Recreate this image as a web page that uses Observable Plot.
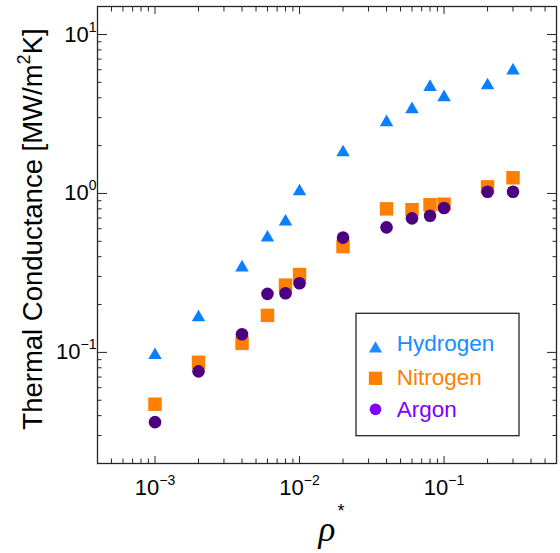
<!DOCTYPE html>
<html><head><meta charset="utf-8">
<script src="https://cdn.jsdelivr.net/npm/d3@7"></script>
<script src="https://cdn.jsdelivr.net/npm/@observablehq/plot@0.6"></script>
<style>
html,body{margin:0;padding:0;background:#fff;}
#chart{position:relative;width:560px;height:553px;font-family:"Liberation Sans",Arial,sans-serif;}
#chart svg{display:block;}
</style></head><body><div id="chart"></div>
<script>
// ---- data ----
const rho = [0.001, 0.002, 0.004, 0.006, 0.008, 0.01, 0.02, 0.04, 0.06, 0.08, 0.1, 0.2, 0.3];
const hydrogen = [0.096, 0.166, 0.342, 0.527, 0.664, 1.03, 1.81, 2.80, 3.38, 4.67, 4.02, 4.78, 5.93];
const nitrogen = [0.0472, 0.0866, 0.114, 0.171, 0.265, 0.309, 0.463, 0.80, 0.79, 0.85, 0.855, 1.10, 1.255];
const argon = [0.0364, 0.076, 0.130, 0.2335, 0.2356, 0.272, 0.527, 0.612, 0.697, 0.724, 0.81, 1.025, 1.025];
const seriesNames = ["Hydrogen", "Nitrogen", "Argon"];
const seriesColors = ["#0a80ff", "#ff8000", "#4b0082"];
const legendColors = ["#1a8cff", "#ff8000", "#8000ff"];
const majorX = [1e-3, 1e-2, 1e-1];
const minorX = [5e-4, 6e-4, 7e-4, 8e-4, 9e-4, 2e-3, 3e-3, 4e-3, 5e-3, 6e-3, 7e-3, 8e-3, 9e-3,
                2e-2, 3e-2, 4e-2, 5e-2, 6e-2, 7e-2, 8e-2, 9e-2, 0.2, 0.3, 0.4, 0.5];
const majorY = [0.1, 1, 10];
const minorY = [0.02, 0.03, 0.04, 0.05, 0.06, 0.07, 0.08, 0.09, 0.2, 0.3, 0.4, 0.5, 0.6, 0.7, 0.8, 0.9,
                2, 3, 4, 5, 6, 7, 8, 9];
const xLabel = "ρ";
const xLabelSup = "*";
const yLabel = "Thermal Conductance [MW/m^2K]";

const rows = vals => rho.map((x, i) => ({x, y: vals[i]}));
const ink = "#262626";
const expFmt = d => "10^" + String(Math.round(Math.log10(d))).replace("-", "−");
const none = () => "";

const plot = Plot.plot({
  width: 560, height: 553,
  marginLeft: 97, marginRight: 4, marginTop: 6, marginBottom: 90,
  style: {fontFamily: '"Liberation Sans", Arial, sans-serif', background: "#fff", overflow: "visible", color: "#000"},
  x: {type: "log", domain: [4e-4, 0.6]},
  y: {type: "log", domain: [0.02, 15]},
  marks: [
    // inward ticks on all four sides
    Plot.axisX(majorX, {anchor: "bottom", tickSize: 7, dy: -7, tickFormat: none, label: null, stroke: ink}),
    Plot.axisX(minorX, {anchor: "bottom", tickSize: 4.5, dy: -4.5, tickFormat: none, label: null, stroke: ink}),
    Plot.axisX(majorX, {anchor: "top", tickSize: 7, dy: 7, tickFormat: none, label: null, stroke: ink}),
    Plot.axisX(minorX, {anchor: "top", tickSize: 4.5, dy: 4.5, tickFormat: none, label: null, stroke: ink}),
    Plot.axisY(majorY, {anchor: "left", tickSize: 10, dx: 10, tickFormat: none, label: null, stroke: ink}),
    Plot.axisY(minorY, {anchor: "left", tickSize: 4.5, dx: 4.5, tickFormat: none, label: null, stroke: ink}),
    Plot.axisY(majorY, {anchor: "right", tickSize: 10, dx: -10, tickFormat: none, label: null, stroke: ink}),
    Plot.axisY(minorY, {anchor: "right", tickSize: 4.5, dx: -4.5, tickFormat: none, label: null, stroke: ink}),
    // tick labels
    Plot.axisX(majorX, {anchor: "bottom", tickSize: 0, tickPadding: 15.4, fontSize: 22, tickFormat: expFmt, label: null, fill: "#000"}),
    Plot.axisY(majorY, {anchor: "left", tickSize: 0, tickPadding: 1, fontSize: 22, tickFormat: expFmt, label: null, fill: "#000"}),
    Plot.frame({stroke: ink, strokeWidth: 1.3}),
    // series
    Plot.dot(rows(hydrogen), {x: "x", y: "y", symbol: "triangle", r: 5, fill: seriesColors[0]}),
    Plot.dot(rows(nitrogen), {x: "x", y: "y", symbol: "square", r: 7.6, fill: seriesColors[1]}),
    Plot.dot(rows(argon), {x: "x", y: "y", symbol: "circle", r: 6.3, fill: seriesColors[2]}),
    // axis labels
    Plot.text([yLabel], {text: d => d, frameAnchor: "left", rotate: -90, dx: -64, dy: -6, fontSize: 27.5,
      textAnchor: "middle", lineAnchor: "middle", fill: "#000"}),
    Plot.text([xLabel], {text: d => d, frameAnchor: "bottom", dy: 66, fontSize: 35, fontStyle: "italic",
      fontFamily: '"Liberation Serif", "DejaVu Serif", serif', textAnchor: "middle", lineAnchor: "middle", fill: "#000"}),
    Plot.text([xLabelSup], {text: d => d, frameAnchor: "bottom", dx: 14, dy: 48, fontSize: 18,
      textAnchor: "middle", lineAnchor: "middle", fill: "#000"})
  ]
});

// superscripts for "a^b" texts
const NS = "http://www.w3.org/2000/svg";
function superscript(t, size, shift) {
  const s = t.textContent;
  const m = s.match(/^(.*?)\^(−?\d+)(.*)$/);
  if (!m) return;
  t.textContent = "";
  const a = document.createElementNS(NS, "tspan"); a.textContent = m[1]; t.appendChild(a);
  const b = document.createElementNS(NS, "tspan"); b.textContent = m[2];
  b.setAttribute("dy", shift); b.setAttribute("font-size", size); t.appendChild(b);
  if (m[3]) {
    const c = document.createElementNS(NS, "tspan"); c.textContent = m[3];
    c.setAttribute("dy", -shift); t.appendChild(c);
  }
}
plot.querySelectorAll("text").forEach(t => {
  if (t.textContent === yLabel) superscript(t, 18, -12);
  else if (t.textContent.startsWith("10^")) superscript(t, 14, -10);
});

const chart = document.getElementById("chart");
chart.appendChild(plot);

// legend (inside plot area)
const leg = d3.select(chart).append("svg")
  .attr("width", 560).attr("height", 553)
  .style("position", "absolute").style("left", "0px").style("top", "0px");
leg.append("rect").attr("x", 356).attr("y", 313.3).attr("width", 163).attr("height", 122.4)
  .attr("fill", "#fff").attr("stroke", ink).attr("stroke-width", 1.3);
const legSymbols = [d3.symbolTriangle, d3.symbolSquare, d3.symbolCircle];
const legSizes = [75, 177, 107];
const legCenters = [348.8, 378.3, 409.3];
const legBaselines = [350.7, 385, 416.7];
seriesNames.forEach((name, i) => {
  leg.append("path").attr("d", d3.symbol(legSymbols[i], legSizes[i])())
    .attr("transform", `translate(375.5,${legCenters[i]})`).attr("fill", legendColors[i]);
  leg.append("text").attr("x", 396.7).attr("y", legBaselines[i])
    .attr("font-family", '"Liberation Sans", Arial, sans-serif').attr("font-size", 22.5)
    .attr("fill", legendColors[i]).text(name);
});
</script>
</body></html>
